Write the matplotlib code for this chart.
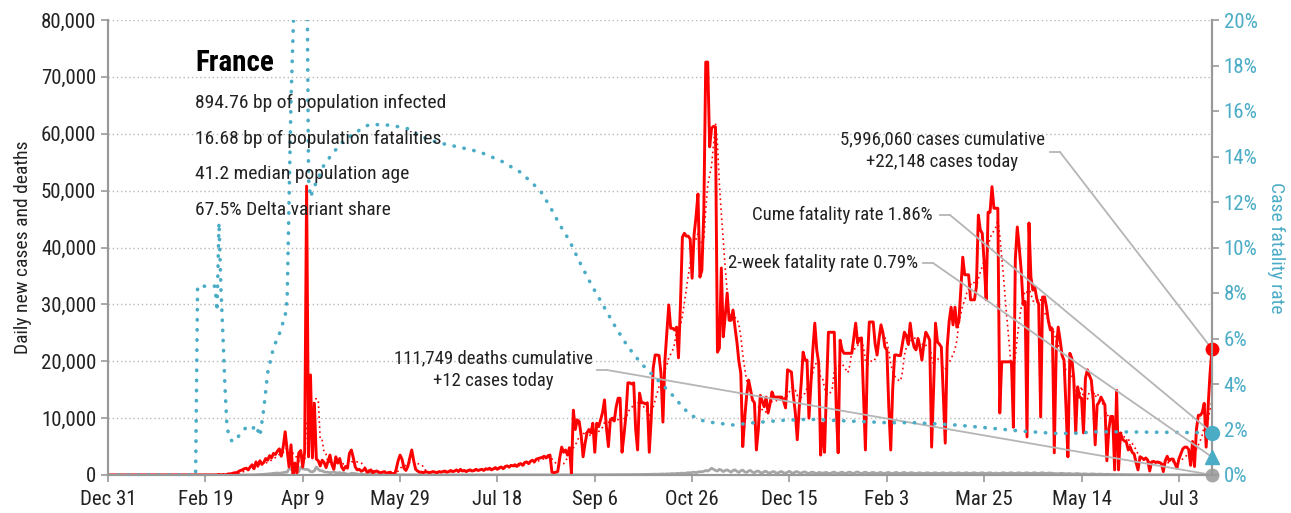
import matplotlib
matplotlib.use('Agg')
import matplotlib.pyplot as plt
from matplotlib.lines import Line2D
import matplotlib.ticker as mticker
from matplotlib import font_manager
import numpy as np
import pandas as pd

# daily new cases in France, thousands, one list per month (Dec 31 2019 .. Jul 20 2021)
cases_2019_12 = [0]
cases_2020_01 = [0, 0, 0, 0, 0, 0, 0, 0, 0, 0, 0, 0, 0, 0, 0, 0, 0, 0, 0, 0,
                 0, 0, 0, 0, 0, 0, 0, 0, 0, 0, 0]
cases_2020_02 = [0, 0, 0, 0, 0, 0, 0, 0, 0, 0, 0, 0, 0, 0, 0, 0, 0, 0, 0, 0,
                 0, 0, 0, 0.0, 0.0, 0.1, 0.0, 0.1, 0.0]
cases_2020_03 = [0.1, 0.2, 0.2, 0.3, 0.4, 0.4, 0.6, 0.8, 0.9, 1.1, 1.2, 0.9, 1.4, 1.8, 1.1, 2.3,
                 1.6, 2.5, 1.9, 2.2, 2.9, 2.6, 3.4, 3.0, 3.8, 3.6, 4.2, 4.6, 3.3, 5.0, 7.6]
cases_2020_04 = [4.4, 1.4, 5.3, -0.3, 2.1, 0.3, 3.9, 4.3, 1.4, 4.0, 50.8, 3.2, 17.6, 3.0, 12.6,
                 2.8, 2.5, 1.6, 2.6, 2.2, 1.3, 2.4, 3.5, 1.8, 1.0, 3.2, 2.1, 2.9, 1.4, 0.9]
cases_2020_05 = [1.5, 1.2, 3.8, 4.4, 3.0, 1.4, 0.9, 1.0, 0.7, 0.8, 1.2, 0.5, 0.6, 0.9, 0.4, 0.6,
                 0.7, 0.5, 0.4, 0.5, 0.6, 0.3, 0.4, 0.5, 0.2, -0.1, 1.0, 2.5, 3.5, 2.8, 1.2]
cases_2020_06 = [0.8, 1.5, 3.0, 4.4, 2.5, 1.0, 0.7, 0.5, 0.5, 0.4, 0.6, 0.5, 0.4, 0.5, 0.6,
                 0.5, 0.4, 0.6, 0.5, 0.6, 0.7, 0.5, 0.6, 0.8, 0.6, 0.7, 0.9, 0.6, 1.0, 0.7]
cases_2020_07 = [0.8, 0.6, 0.8, 0.9, 0.7, 0.8, 1.0, 0.8, 0.9, 1.0, 0.8, 1.1, 1.0, 1.2, 0.9, 1.1,
                 1.3, 1.0, 1.3, 1.4, 1.1, 1.5, 1.6, 1.4, 1.7, 1.6, 1.8, 1.5, 1.9, 2.0, 1.7]
cases_2020_08 = [2.2, 2.3, 2.0, 2.4, 2.6, 2.3, 2.8, 2.9, 3.0, 3.1, 3.3, 3.0, 3.4, 3.5, 0.5, 0.4,
                 0.5, 0.6, 3.0, 4.9, 4.0, 4.4, 3.5, 4.8, 0.3, 11.4, 8.0, 9.7, 9.4, 7.0, 3.2]
cases_2020_09 = [5.5, 7.4, 8.0, 7.4, 9.1, 4.0, 9.1, 8.5, 9.7, 11.0, 13.2, 8.3, 5.0, 9.7, 10.0,
                 9.5, 12.0, 13.5, 13.5, 4.0, 7.0, 10.5, 16.2, 16.2, 16.0, 16.2, 8.0, 4.4, 14.4, 12.7]
cases_2020_10 = [12.7, 12.5, 12.7, 4.0, 10.0, 18.8, 21.1, 21.1, 21.0, 17.9, 9.3, 20.0, 25.0, 29.9,
                 25.8, 25.8, 25.5, 26.0, 20.6, 30.0, 41.8, 42.5, 42.0, 42.0, 41.5, 34.6, 42.2,
                 45.4, 49.4, 34.8, 36.0]
cases_2020_11 = [46.2, 72.6, 72.6, 57.7, 61.0, 61.3, 61.2, 21.6, 22.3, 36.4, 24.3, 28.0, 32.0,
                 27.2, 27.2, 29.0, 26.0, 23.4, 20.0, 17.9, 5.0, 10.0, 14.0, 16.7, 15.0, 13.2,
                 12.7, 4.4, 8.0, 14.0]
cases_2020_12 = [13.0, 12.0, 13.7, 10.9, 12.5, 14.6, 13.7, 13.7, 13.7, 13.7, 13.7, 13.0, 11.8,
                 18.5, 18.3, 18.1, 14.0, 10.9, 6.2, 11.8, 16.0, 21.6, 20.2, 20.2, 10.0, 16.0,
                 22.0, 26.7, 22.0, 19.7, 3.5]
cases_2021_01 = [9.1, 4.0, 15.0, 25.1, 25.1, 25.1, 25.1, 12.0, 3.9, 23.7, 22.0, 21.4, 21.4, 21.4,
                 21.4, 21.4, 24.0, 26.7, 23.2, 24.0, 24.1, 14.0, 4.4, 20.0, 26.9, 26.9, 26.9,
                 23.0, 21.1, 24.0, 26.4]
cases_2021_02 = [25.0, 22.5, 22.0, 12.0, 4.4, 15.0, 21.1, 21.1, 21.0, 21.0, 23.0, 25.1, 24.5,
                 23.0, 26.7, 24.0, 22.5, 22.0, 24.0, 22.5, 20.2, 23.0, 25.1, 24.5, 23.7, 4.9,
                 15.0, 26.7]
cases_2021_03 = [23.4, 23.0, 22.5, 14.0, 5.6, 22.5, 27.0, 29.5, 26.4, 29.5, 26.0, 27.0, 32.5,
                 38.3, 35.2, 35.2, 35.2, 30.8, 30.8, 30.8, 33.1, 45.7, 43.1, 42.5, 37.3, 30.8,
                 46.2, 46.2, 50.7, 46.9, 46.9]
cases_2021_04 = [46.9, 10.9, 19.9, 19.9, 19.9, 19.9, 19.9, 19.9, 8.4, 38.0, 43.6, 40.0, 36.0,
                 30.0, 30.5, 6.7, 44.3, 34.8, 32.5, 33.0, 31.0, 30.0, 10.2, 31.3, 31.3, 29.5,
                 27.0, 25.5, 25.7, 3.9]
cases_2021_05 = [22.0, 26.0, 23.7, 21.0, 20.2, 12.0, 3.2, 21.4, 20.5, 17.0, 7.4, 15.5, 13.7,
                 13.5, 7.4, 17.0, 18.5, 17.5, 16.7, 13.2, 5.3, 12.3, 12.8, 13.7, 13.0, 12.3,
                 2.5, 8.0, 10.3, 10.3, 0.9]
cases_2021_06 = [14.9, 0.9, 7.4, 6.3, 6.0, 5.8, 4.4, 4.9, 4.0, 3.7, 2.2, 0.9, 3.2, 3.0, 2.7,
                 3.0, 2.6, 0.7, 2.3, 2.4, 2.2, 2.3, 2.2, 2.0, 0.6, 2.5, 3.3, 2.5, 2.8, 2.8]
cases_2021_07 = [2.0, 1.2, 2.8, 3.7, 4.6, 4.9, 4.9, 4.5, 1.7, 5.9, 1.5, 8.0, 10.5, 10.5, 11.0,
                 12.6, 4.9, 12.0, 17.9, 22.148]

# daily deaths, one list per month
deaths_2019_12 = [0]
deaths_2020_01 = [0, 0, 0, 0, 0, 0, 0, 0, 0, 0, 0, 0, 0, 0, 0, 0, 0, 0, 0, 0,
                  0, 0, 0, 0, 0, 0, 0, 0, 0, 0, 0]
deaths_2020_02 = [0, 0, 0, 0, 0, 0, 0, 0, 0, 0, 0, 0, 0, 0, 0, 0, 0, 0, 0, 0,
                  0, 0, 0, 0, 0, 0, 0, 0, 0]
deaths_2020_03 = [0, 0, 1, 1, 2, 2, 3, 5, 7, 9, 12, 15, 20, 25, 35, 40, 60, 80, 100, 120,
                  150, 180, 220, 240, 300, 320, 360, 300, 350, 420, 500]
deaths_2020_04 = [500, 1100, 1000, 1200, 900, 800, 600, 1400, 1100, 1000, 1000, 900, 600, 550,
                  750, 1400, 1000, 750, 750, 550, 500, 500, 400, 450, 550, 400, 350, 450, 250, 430]
deaths_2020_05 = [220, 170, 140, 300, 280, 250, 180, 80, 250, 110, 70, 80, 70, 350, 90, 95, 80,
                  65, 70, 55, 50, 40, 35, 130, 60, 90, 40, 50, 30, 52, 35]
deaths_2020_06 = [30, 25, 40, 30, 25, 20, 15, 30, 25, 20, 15, 10, 25, 20, 15, 20, 15, 10, 15,
                  20, 15, 10, 12, 20, 15, 10, 10, 15, 10, 10]
deaths_2020_07 = [10, 12, 15, 10, 8, 10, 14, 12, 10, 8, 14, 12, 10, 15, 12, 10, 8, 15, 12, 10,
                  12, 15, 10, 12, 10, 8, 15, 12, 10, 12, 10]
deaths_2020_08 = [10, 12, 14, 10, 12, 15, 12, 10, 15, 12, 14, 10, 15, 18, 12, 15, 20, 15, 12,
                  18, 20, 15, 22, 25, 20, 18, 25, 30, 20, 25, 22]
deaths_2020_09 = [30, 35, 25, 30, 40, 35, 45, 30, 40, 50, 45, 55, 40, 60, 50, 65, 55, 70, 60,
                  50, 75, 70, 80, 65, 85, 75, 90, 80, 70, 100]
deaths_2020_10 = [90, 110, 100, 120, 110, 130, 150, 120, 140, 160, 180, 150, 200, 190, 220, 250,
                  200, 280, 260, 300, 320, 280, 350, 400, 380, 450, 500, 420, 500, 600, 550]
deaths_2020_11 = [650, 800, 700, 900, 1200, 1000, 800, 700, 1000, 850, 600, 800, 900, 700, 500,
                  800, 900, 650, 450, 750, 850, 550, 450, 700, 800, 500, 400, 650, 700, 450]
deaths_2020_12 = [350, 600, 650, 400, 350, 550, 600, 400, 300, 550, 600, 400, 300, 500, 650, 400,
                  300, 550, 600, 400, 300, 500, 550, 350, 250, 450, 500, 350, 250, 450, 400]
deaths_2021_01 = [300, 400, 450, 300, 250, 450, 500, 350, 250, 400, 500, 350, 250, 450, 500, 350,
                  250, 450, 550, 350, 250, 400, 500, 350, 250, 400, 450, 350, 250, 400, 450]
deaths_2021_02 = [300, 250, 400, 450, 300, 250, 400, 450, 300, 250, 400, 450, 300, 250, 400, 400,
                  300, 250, 350, 400, 300, 250, 350, 400, 300, 250, 350, 400]
deaths_2021_03 = [300, 250, 350, 400, 300, 250, 350, 400, 300, 250, 350, 400, 300, 250, 350, 400,
                  300, 250, 350, 400, 300, 250, 350, 400, 300, 250, 350, 400, 300, 250, 350]
deaths_2021_04 = [300, 250, 350, 400, 300, 250, 350, 400, 300, 250, 350, 400, 300, 250, 350, 400,
                  300, 250, 350, 400, 300, 250, 350, 400, 300, 250, 350, 350, 300, 250]
deaths_2021_05 = [250, 200, 300, 300, 250, 200, 250, 250, 200, 150, 250, 250, 200, 150, 200, 200,
                  150, 120, 200, 180, 150, 100, 150, 150, 120, 100, 130, 120, 100, 80, 100]
deaths_2021_06 = [80, 60, 80, 70, 60, 50, 60, 50, 40, 40, 50, 40, 30, 40, 30, 30, 25, 40, 30,
                  25, 20, 30, 25, 20, 15, 25, 20, 15, 20, 20]
deaths_2021_07 = [15, 20, 15, 15, 12, 15, 15, 10, 15, 12, 10, 15, 12, 10, 15, 12, 10, 12, 10, 12]

# cumulative case fatality rate (%), read at day offsets from Dec 31 2019
cfr_day = [0, 45, 46, 55, 56, 57, 58, 59, 60, 61, 62, 64, 66, 68, 71, 74, 76, 78, 80, 82, 85,
           88, 91, 92, 94, 96, 98, 100, 102, 103, 104, 106, 108, 110, 115, 120, 126, 134, 142,
           150, 155, 160, 170, 181, 191, 202, 212, 222, 227, 232, 237, 242, 248, 254, 260, 265,
           270, 275, 282, 289, 296, 300, 305, 311, 321, 332, 346, 360, 373, 387, 400, 414, 425,
           435, 452, 469, 486, 496, 507, 517, 538, 567]
cfr_pct = [0, 0, 8.3, 8.3, 7.2, 11.1, 8.2, 6.2, 4.0, 2.3, 1.7, 1.45, 1.6, 1.8, 2.1, 2.0, 2.2,
           1.7, 2.9, 4.5, 5.6, 6.2, 7.0, 7.7, 16.5, 22, 28, 30, 25, 13.0, 12.2, 12.7, 13.0, 13.5,
           14.1, 14.6, 15.0, 15.4, 15.4, 15.3, 15.2, 14.9, 14.6, 14.4, 14.2, 13.8, 13.3, 12.5,
           11.8, 11.0, 10.3, 9.4, 8.4, 7.5, 6.6, 5.9, 5.3, 4.8, 4.2, 3.6, 2.9, 2.6, 2.4, 2.3,
           2.2, 2.3, 2.4, 2.45, 2.4, 2.35, 2.3, 2.3, 2.25, 2.2, 2.07, 1.93, 1.83, 1.83, 1.9,
           1.9, 1.88, 1.86]

two_week_cfr = 0.79
total_cases = 5996060
total_deaths = 111749
deaths_today = 12

stats = ["894.76 bp of population infected",
         "16.68 bp of population fatalities",
         "41.2 median population age",
         "67.5% Delta variant share"]

case_months = [cases_2019_12, cases_2020_01, cases_2020_02, cases_2020_03, cases_2020_04,
               cases_2020_05, cases_2020_06, cases_2020_07, cases_2020_08, cases_2020_09,
               cases_2020_10, cases_2020_11, cases_2020_12, cases_2021_01, cases_2021_02,
               cases_2021_03, cases_2021_04, cases_2021_05, cases_2021_06, cases_2021_07]
death_months = [deaths_2019_12, deaths_2020_01, deaths_2020_02, deaths_2020_03, deaths_2020_04,
                deaths_2020_05, deaths_2020_06, deaths_2020_07, deaths_2020_08, deaths_2020_09,
                deaths_2020_10, deaths_2020_11, deaths_2020_12, deaths_2021_01, deaths_2021_02,
                deaths_2021_03, deaths_2021_04, deaths_2021_05, deaths_2021_06, deaths_2021_07]

cases = np.concatenate(case_months) * 1000
deaths = np.concatenate(death_months).astype(float)
start = pd.Timestamp('2019-12-31')
dates = pd.date_range(start, periods=len(cases), freq='D')
ddates = pd.date_range(start, periods=len(deaths), freq='D')
avg7 = pd.Series(cases).rolling(7, min_periods=1).mean().values
cfr_dates = start + pd.to_timedelta(cfr_day, unit='D')

RED = '#ff0000'
TEAL = '#4bacc6'
GREY = '#a6a6a6'
LEAD = '#b5b5b5'
INK = '#222222'
W, H = 1291, 513

# pick a condensed face if there is one, else the narrower Liberation Sans
installed = {f.name for f in font_manager.fontManager.ttflist}
font = 'Liberation Sans'
for cand in ['Liberation Sans Narrow', 'DejaVu Sans Condensed', 'Roboto Condensed',
             'Open Sans Condensed']:
    if cand in installed:
        font = cand
        break
narrow = font != 'Liberation Sans'
plt.rcParams['font.family'] = [font, 'DejaVu Sans']
if narrow:
    fs_tick, fs_label, fs_stats, fs_note, fs_title = 15, 14, 14, 13.5, 21
else:
    fs_tick, fs_label, fs_stats, fs_note, fs_title = 13, 13, 12.5, 12, 19

fig = plt.figure(figsize=(W / 100, H / 100), dpi=100)
ax = fig.add_axes([108 / W, 1 - 475 / H, (1212 - 108) / W, (475 - 20) / H])
ax2 = ax.twinx()

ax.plot(ddates, deaths, color=GREY, lw=2, zorder=2)
ax.plot(dates, cases, color=RED, lw=2.1, zorder=3)
ax.plot(dates, avg7, color=RED, lw=1.2, ls=(0, (1, 2)), zorder=3)
ax2.plot(cfr_dates, cfr_pct, color=TEAL, lw=2.6, ls=(0, (0.1, 2.7)),
         dash_capstyle='round', zorder=2)

ax.set_xlim(dates[0], dates[-1])
ax.set_ylim(0, 80000)
ax2.set_ylim(0, 20)

ticks = pd.date_range(start, periods=12, freq='50D')
ax.set_xticks(ticks)
ax.set_xticklabels([t.strftime('%b %-d') for t in ticks])
ax.yaxis.set_major_locator(mticker.MultipleLocator(10000))
ax.yaxis.set_major_formatter(mticker.FuncFormatter(lambda v, p: f'{int(v):,}'))
ax2.yaxis.set_major_locator(mticker.MultipleLocator(2))
ax2.yaxis.set_major_formatter(mticker.FuncFormatter(lambda v, p: f'{int(v)}%'))

ax.yaxis.grid(True, ls=(0, (1, 2)), color='#b8b8b8', lw=1)
ax.set_axisbelow(True)

for a in (ax, ax2):
    a.spines['top'].set_visible(False)
    for s in ('left', 'right', 'bottom'):
        a.spines[s].set_color('#999999')
        a.spines[s].set_linewidth(1.5)
ax.tick_params(axis='both', colors='#999999', labelcolor=INK, labelsize=fs_tick, length=5, width=1.2)
ax.tick_params(axis='x', pad=6)
ax2.tick_params(axis='y', colors='#999999', labelcolor=TEAL, labelsize=fs_tick, length=5, width=1.2)

ax.set_ylabel('Daily new cases and deaths', fontsize=fs_label, color=INK, labelpad=6)
ax2.set_ylabel('Case fatality rate', fontsize=fs_label, color=TEAL, rotation=270, labelpad=20)

# end markers
ax.plot(dates[-1], cases[-1], 'o', color=RED, ms=9, clip_on=False, zorder=6)
ax.plot(ddates[-1], deaths_today, 'o', color=GREY, ms=9, clip_on=False, zorder=6)
ax2.plot(cfr_dates[-1], cfr_pct[-1], 'o', color=TEAL, ms=10, clip_on=False, zorder=6)
ax2.plot(cfr_dates[-1], two_week_cfr, '^', color=TEAL, ms=10, clip_on=False, zorder=6)

# title block
fig.text(195 / W, 1 - 63 / H, 'France', fontsize=fs_title, fontweight='bold', va='center')
for i, s in enumerate(stats):
    fig.text(195 / W, 1 - (103 + 35.5 * i) / H, s, fontsize=fs_stats, va='center', color=INK)


def leader(p0, p1, target_ax, target_xy):
    # short horizontal stub, then a straight line to the data point
    fig.add_artist(Line2D([p0[0] / W, p1[0] / W], [1 - p0[1] / H, 1 - p1[1] / H],
                          transform=fig.transFigure, color=LEAD, lw=1.3))
    target_ax.annotate('', xy=target_xy, xycoords='data', xytext=(p1[0], H - p1[1]),
                       textcoords='figure pixels',
                       arrowprops=dict(arrowstyle='-', color=LEAD, lw=1.3, shrinkA=0, shrinkB=0))


fig.text(942 / W, 1 - 151 / H,
         f'{total_cases:,} cases cumulative\n+{cases[-1]:,.0f} cases today',
         fontsize=fs_note, ha='center', va='center', color=INK, linespacing=1.35)
leader((1050, 152), (1060, 152), ax, (dates[-1], cases[-1]))

fig.text(933 / W, 1 - 215 / H, f'Cume fatality rate {cfr_pct[-1]:.2f}%',
         fontsize=fs_note, ha='right', va='center', color=INK)
leader((940, 215), (950, 215), ax2, (cfr_dates[-1], cfr_pct[-1]))

fig.text(918 / W, 1 - 263 / H, f'2-week fatality rate {two_week_cfr:.2f}%',
         fontsize=fs_note, ha='right', va='center', color=INK)
leader((923, 263), (933, 263), ax2, (cfr_dates[-1], two_week_cfr))

fig.text(493 / W, 1 - 370 / H,
         f'{total_deaths:,} deaths cumulative\n+{deaths_today} cases today',
         fontsize=fs_note, ha='center', va='center', color=INK, linespacing=1.35)
leader((597, 370), (607, 370), ax, (ddates[-1], deaths_today))

fig.savefig('out.png', dpi=100)
